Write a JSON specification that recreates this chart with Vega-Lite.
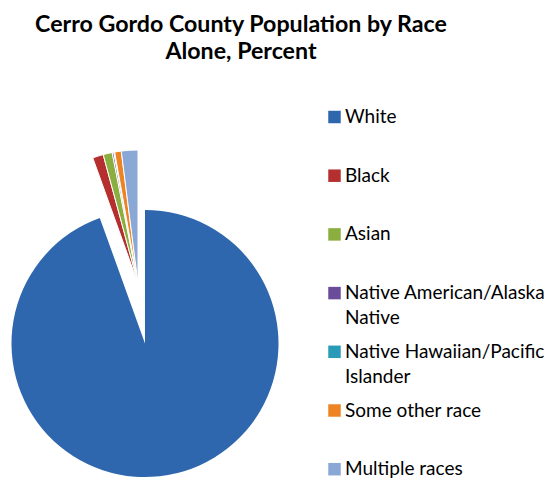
{
  "$schema": "https://vega.github.io/schema/vega-lite/v6.json",
  "width": 290,
  "height": 275,
  "autosize": {"type": "none"},
  "padding": {"left": 0, "top": 206, "right": 264, "bottom": 0},
  "background": "white",
  "title": {
    "text": ["Cerro Gordo County Population by Race", "Alone, Percent"],
    "font": "Lato",
    "fontSize": 23.2,
    "fontWeight": "bold",
    "color": "black",
    "lineHeight": 27,
    "anchor": "middle",
    "dx": 96,
    "offset": 43.5
  },
  "data": {
    "values": [
      {"race": "White", "percent": 94.5},
      {"race": "Black", "percent": 1.3},
      {"race": "Asian", "percent": 1.1},
      {"race": "Native American/Alaska Native", "percent": 0.2},
      {"race": "Native Hawaiian/Pacific Islander", "percent": 0.1},
      {"race": "Some other race", "percent": 0.8},
      {"race": "Multiple races", "percent": 2.0}
    ]
  },
  "transform": [
    {"calculate": "indexof(['White','Black','Asian','Native American/Alaska Native','Native Hawaiian/Pacific Islander','Some other race','Multiple races'], datum.race)", "as": "idx"},
    {"stack": "percent", "groupby": [], "sort": [{"field": "idx", "order": "ascending"}], "as": ["t0", "t1"]}
  ],
  "encoding": {
    "theta": {"field": "t0", "type": "quantitative", "scale": {"domain": [0, 100]}},
    "theta2": {"field": "t1"},
    "color": {
      "field": "race",
      "type": "nominal",
      "sort": ["White", "Black", "Asian", "Native American/Alaska Native", "Native Hawaiian/Pacific Islander", "Some other race", "Multiple races"],
      "scale": {
        "domain": ["White", "Black", "Asian", "Native American/Alaska Native", "Native Hawaiian/Pacific Islander", "Some other race", "Multiple races"],
        "range": ["#2F67AE", "#B42F2E", "#8BAF3F", "#6B4C9A", "#2A9BB7", "#EE8324", "#8AA8D5"]
      },
      "legend": {
        "orient": "none",
        "legendX": 325,
        "legendY": -98.5,
        "title": null,
        "padding": 0,
        "symbolType": "square",
        "symbolSize": 156,
        "symbolStrokeWidth": 0,
        "labelFont": "Lato",
        "labelFontSize": 19,
        "labelColor": "black",
        "labelLimit": 400,
        "labelOffset": 1,
        "labelBaseline": "middle",
        "rowPadding": 13.7,
        "gridAlign": "all",
        "labelExpr": "datum.label == 'Native American/Alaska Native' ? ['Native American/Alaska', 'Native'] : datum.label == 'Native Hawaiian/Pacific Islander' ? ['Native Hawaiian/Pacific', 'Islander'] : datum.label",
        "encode": {"labels": {"update": {"lineHeight": {"value": 25}}}}
      }
    }
  },
  "layer": [
    {
      "transform": [{"filter": "datum.race === 'White'"}],
      "mark": {"type": "arc", "outerRadius": 133.5}
    },
    {
      "transform": [{"filter": "datum.race !== 'White'"}],
      "mark": {"type": "arc", "outerRadius": 133.5, "x": {"expr": "width/2 - 7"}, "y": {"expr": "height/2 - 60"}, "stroke": "white", "strokeWidth": 1}
    }
  ]
}
